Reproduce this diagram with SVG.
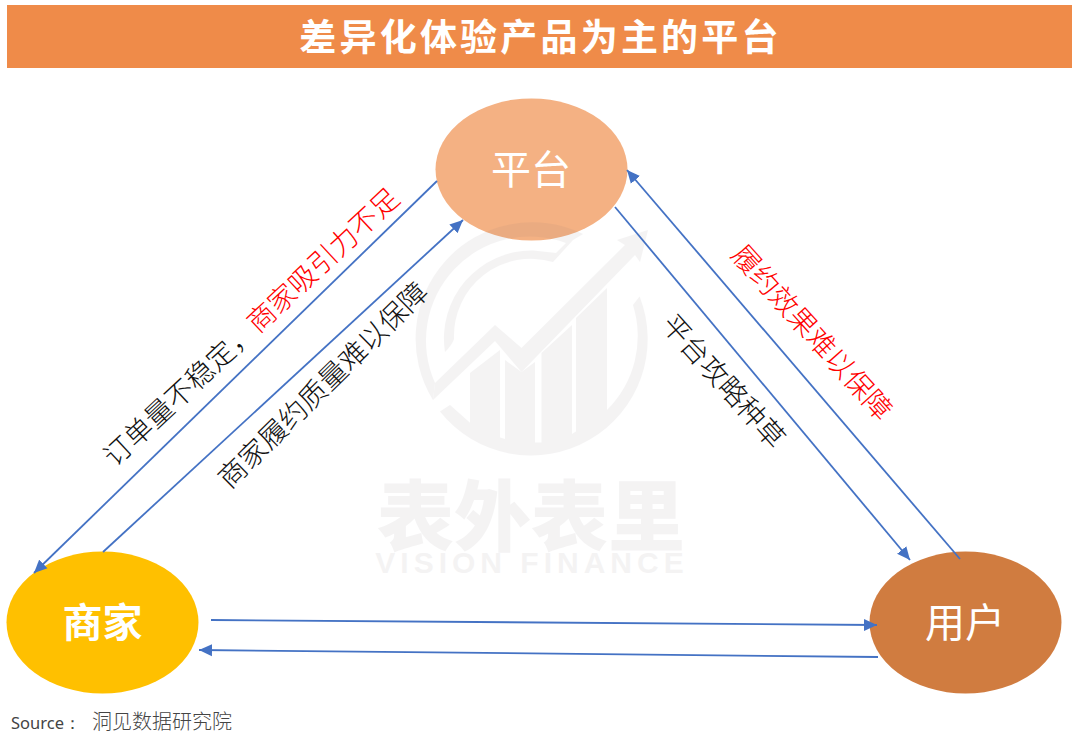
<svg xmlns="http://www.w3.org/2000/svg" width="1080" height="742" viewBox="0 0 1080 742">
<style>
text{font-family:"Noto Sans CJK SC","Noto Sans",sans-serif}
.conn{fill:none;stroke:#4472C4;stroke-width:1.8}
.node{fill:#fff;font-size:40px;text-anchor:middle;dominant-baseline:central}
.lab{font-size:28px;font-weight:300;text-anchor:middle;dominant-baseline:central;fill:#111}
.red{fill:#FF0000}
.wm{fill:#7B6F75}
</style>
<defs>
<marker id="arr" markerUnits="userSpaceOnUse" markerWidth="14" markerHeight="13" refX="13" refY="6.500" orient="auto"><path d="M0 0.500L13 6.500L0 12.500Z" fill="#4472C4"/></marker>
</defs>
<rect width="1080" height="742" fill="#fff"/>
<g id="header"><rect x="7" y="5" width="1065" height="63" fill="#EF8B49"/>
<text x="540.500" y="35" fill="#fff" font-size="37" font-weight="700" letter-spacing="3.200" text-anchor="middle" dominant-baseline="central">差异化体验产品为主的平台</text></g>
<g id="node-platform"><ellipse cx="531.500" cy="169.500" rx="96" ry="71" fill="#F4B183"/><text class="node" x="531" y="167">平台</text></g>
<g id="node-merchant"><ellipse cx="102.500" cy="622.500" rx="96" ry="71" fill="#FFC000"/><text class="node" x="102.500" y="620" font-weight="700">商家</text></g>
<g id="node-user"><ellipse cx="965.500" cy="622.500" rx="96" ry="71" fill="#D07C40"/><text class="node" x="965" y="620">用户</text></g>
<g id="watermark" opacity=".08">
<path class="wm" d="M433 400A116.500 116.500 0 0 1 583 234L573 240L553 262A77 77 0 0 0 454 339Q452 345 445 352A88 88 0 0 1 533 250.500L556 253L566 243A104 104 0 0 0 435 383Z"/>
<path class="wm" d="M435 383L495 325L521.500 348L625 245L617 240L648 230L640 262L635 255L521.500 372L495 341L433 400Z"/>
<path class="wm" d="M440 411.500A116.500 116.500 0 0 0 639.600 296.400L633 305A104 104 0 0 1 607 410V288L576 318V431.500L572 434V325L541.500 353V442.500L535 442.500V362L521.500 372L505 360V439L500 437.500V350L470 373V422.700L450 405Z"/>
</g>
<g id="watermark-text" opacity=".08">
<text class="wm" x="531" y="511" font-size="77" font-weight="900" text-anchor="middle" dominant-baseline="central">表外表里</text>
<text class="wm" x="532" y="562" font-size="30" font-weight="700" letter-spacing="5" text-anchor="middle" dominant-baseline="central" style="font-family:'Liberation Sans',sans-serif">VISION FINANCE</text>
</g>
<g id="connectors">
<path class="conn" marker-end="url(#arr)" d="M437 181L34 573"/>
<path class="conn" marker-end="url(#arr)" d="M103 552L463 220"/>
<path class="conn" marker-end="url(#arr)" d="M615 207L910 560"/>
<path class="conn" marker-end="url(#arr)" d="M960 559L627 170"/>
<path class="conn" marker-end="url(#arr)" d="M211 620L877 625"/>
<path class="conn" marker-end="url(#arr)" d="M878 657L199 650"/>
</g>
<g id="labels">
<text class="lab" transform="translate(250 325.500) rotate(-43)">订单量不稳定，<tspan class="red">商家吸引力不足</tspan></text>
<text class="lab" transform="translate(321.500 383.500) rotate(-44.400)">商家履约质量难以保障</text>
<text class="lab" transform="translate(725 380) rotate(48)">平台攻略种草</text>
<text class="lab red" transform="translate(813.500 331) rotate(48)">履约效果难以保障</text>
</g>
<text id="source" x="11" y="729" fill="#444"><tspan font-size="16.500" font-family="Noto Sans">Source：</tspan><tspan x="92" font-size="20" font-weight="300">洞见数据研究院</tspan></text>
</svg>
